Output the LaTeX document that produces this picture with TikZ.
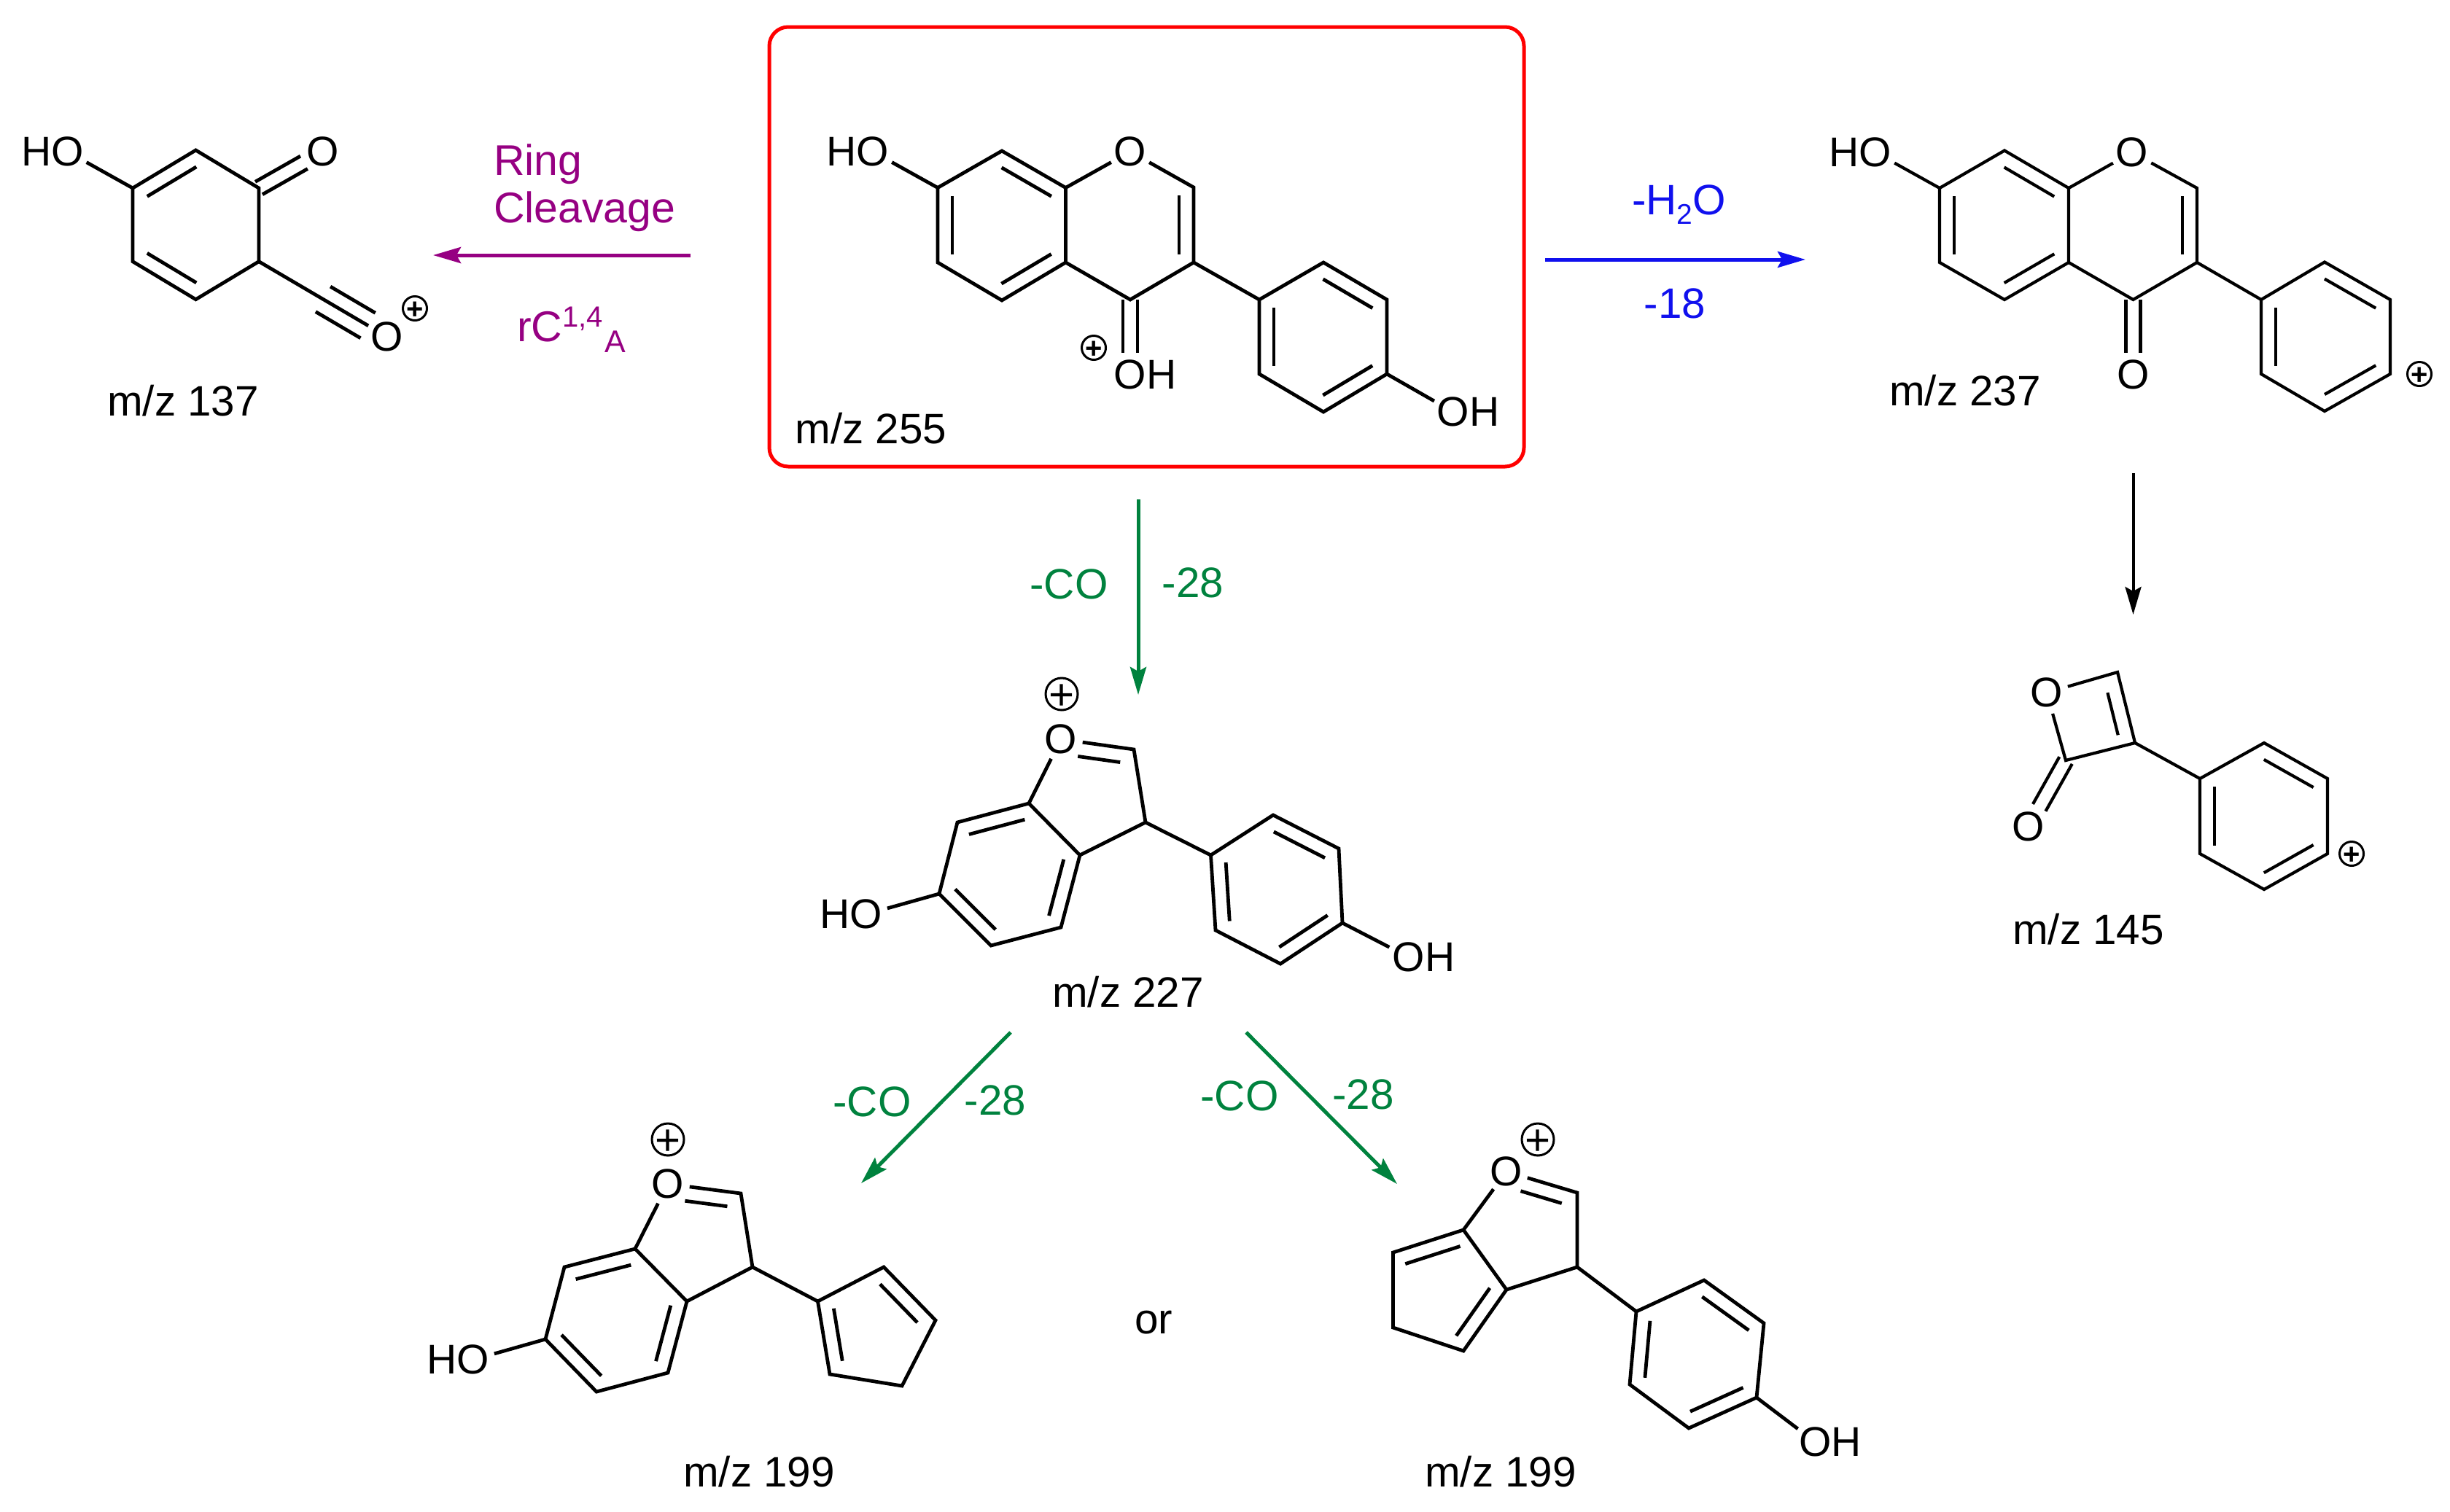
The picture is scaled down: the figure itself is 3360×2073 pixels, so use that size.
\documentclass[tikz,border=0pt]{standalone}
\usepackage{fontspec}
\setmainfont{Liberation Sans}
\usetikzlibrary{calc,arrows.meta}
\definecolor{rbox}{RGB}{255,0,0}
\definecolor{pur}{RGB}{150,0,130}
\definecolor{blu}{RGB}{16,16,238}
\definecolor{grn}{RGB}{0,130,62}
\newcommand{\bw}{2.4pt}
\tikzset{
  every node/.style={font=\fontsize{28.5}{31}\selectfont,inner sep=0pt,outer sep=0pt},
  bond/.style={line width=\bw,line join=miter,black},
  atom/.style={circle,minimum size=30pt},
  chg/.style={circle,draw=black,line width=1.5pt,minimum size=16.5pt,font=\fontsize{20}{20}\selectfont\bfseries},
  chgbig/.style={chg,line width=1.5pt,minimum size=22pt,font=\fontsize{30}{30}\selectfont\mdseries},
  lbl/.style={anchor=base,font=\fontsize{29.2}{31}\selectfont},
  purlbl/.style={text=pur,font=\fontsize{29.5}{32.5}\selectfont},
  arr/.style={line width=2.5pt,-{Stealth[length=19pt,width=11pt,inset=3pt]}},
}
% inner line of a double bond: ends, side, start and stop fractions
\newcommand{\dbl}[5]{\draw[bond] ($(#1)!#4!(#2)!10pt!#3:(#2)$) -- ($(#1)!#5!(#2)!10pt!#3:(#2)$);}
\newcommand{\rdbl}[3]{\dbl{#1}{#2}{#3}{.11}{.89}}
% symmetric double bond to an atom node
\newcommand{\sdbl}[2]{\draw[bond,shorten >=15pt] ($(#1)!5pt!90:(#2)$) -- ($(#2)!5pt!-90:(#1)$);\draw[bond,shorten >=15pt] ($(#1)!5pt!-90:(#2)$) -- ($(#2)!5pt!90:(#1)$);}
\newcommand{\plusmark}{\makebox[0pt]{\smash{\raisebox{-.35em}{+}}}}
\newcommand{\HO}{\makebox[0pt][r]{H}O}
\newcommand{\OH}{O\makebox[0pt][l]{H}}
\begin{document}
\begin{tikzpicture}[x=0.5pt,y=-0.5pt]
\useasboundingbox (0,0) rectangle (3360,2073);
\fill[white] (0,0) rectangle (3360,2073);

% ---------- boxed m/z 255 ----------
\node[draw=rbox,line width=2.5pt,rounded corners=13pt,minimum width=517.5pt,minimum height=301.5pt] (box) at (1572.5,338.5) {};
\node[atom] (aHO) at (1197,208) {\HO};
\node[atom] (aO) at (1550,208) {O};
\node[atom] (aOH) at (1550,514) {\OH};
\node[atom] (aOHb) at (1993,565) {\OH};
\node[chg] (ap) at (1500,477) {\plusmark};
\coordinate (a7) at (1286,257.5); \coordinate (a8) at (1374,207);
\coordinate (a8a) at (1461.5,257.5); \coordinate (a2) at (1637,257);
\coordinate (a3) at (1637,360); \coordinate (a4) at (1550,411);
\coordinate (a4a) at (1461.5,360); \coordinate (a5) at (1374,412);
\coordinate (a6) at (1286,360);
\coordinate (a1p) at (1727,411); \coordinate (a2p) at (1815,360);
\coordinate (a3p) at (1902,411); \coordinate (a4p) at (1902,513);
\coordinate (a5p) at (1815,565); \coordinate (a6p) at (1727,513);
\draw[bond] (aHO) -- (a7) -- (a8) -- (a8a) -- (a4a) -- (a5) -- (a6) -- (a7);
\draw[bond] (a8a) -- (aO);
\draw[bond] (aO) -- (a2) -- (a3) -- (a4) -- (a4a);
\draw[bond] (a3) -- (a1p) -- (a2p) -- (a3p) -- (a4p) -- (a5p) -- (a6p) -- (a1p);
\draw[bond] (a4p) -- (aOHb);
\sdbl{a4}{aOH}
\rdbl{a7}{a6}{90} \rdbl{a8}{a8a}{-90} \rdbl{a5}{a4a}{90} \rdbl{a2}{a3}{-90}
\rdbl{a1p}{a6p}{90} \rdbl{a2p}{a3p}{-90} \rdbl{a5p}{a4p}{90}
\node[lbl] (t255) at (1194.5,608) {m/z 255};

% ---------- m/z 137 ----------
\node[atom] (bHO) at (92.5,208) {\HO};
\node[atom] (bO) at (443,208) {O};
\node[atom] (bOp) at (531,462) {O};
\node[chg] (bp) at (569,423) {\plusmark};
\coordinate (b1) at (182,258); \coordinate (b2) at (268.5,206);
\coordinate (b3) at (355,258); \coordinate (b4) at (355,358.7);
\coordinate (b5) at (268.5,410.7); \coordinate (b6) at (182,358.7);
\draw[bond] (bHO) -- (b1) -- (b2) -- (b3) -- (b4) -- (b5) -- (b6) -- (b1);
\draw[bond] (b4) -- (bOp);
\sdbl{b3}{bO}
\rdbl{b2}{b1}{90} \rdbl{b6}{b5}{90}
\dbl{b4}{bOp}{90}{.5}{.85} \dbl{b4}{bOp}{-90}{.5}{.85}
\node[lbl] (t137) at (251,570) {m/z 137};

% ---------- ring cleavage arrow ----------
\coordinate (pS) at (947,350); \coordinate (pE) at (594,350);
\draw[arr,pur] (pS) -- (pE);
\node[purlbl,align=left,anchor=base west] (tRing) at (677,305) {Ring\\Cleavage};
\node[purlbl,anchor=base west] (tRC) at (709,468) {rC\raisebox{10pt}{\fontsize{20}{22}\selectfont 1,4}\kern1.2pt\raisebox{-7.5pt}{\fontsize{21.5}{22}\selectfont A}};

% ---------- water loss arrow ----------
\coordinate (qS) at (2119,356); \coordinate (qE) at (2476,356);
\draw[arr,blu] (qS) -- (qE);
\node[text=blu,lbl] (tW) at (2302.5,294.5) {-H\raisebox{-6.5pt}{\fontsize{19.5}{20}\selectfont 2}O};
\node[text=blu,lbl] (tW2) at (2297,436) {-18};

\renewcommand{\bw}{2.1pt}
% ---------- m/z 237 ----------
\node[atom] (cHO) at (2572,209) {\HO};
\node[atom] (cO) at (2924,209) {O};
\node[atom] (cOd) at (2925.5,514) {O};
\node[chg] (cp) at (3318,513) {\plusmark};
\coordinate (c7) at (2660,258); \coordinate (c8) at (2749,206.5);
\coordinate (c8a) at (2837,258); \coordinate (c2) at (3013,258);
\coordinate (c3) at (3013,360); \coordinate (c4) at (2925.5,411);
\coordinate (c4a) at (2837,360); \coordinate (c5) at (2749,411);
\coordinate (c6) at (2660,360);
\coordinate (c1p) at (3101,411); \coordinate (c2p) at (3188,359.5);
\coordinate (c3p) at (3278,411); \coordinate (c4p) at (3278,513);
\coordinate (c5p) at (3188,564); \coordinate (c6p) at (3101,513);
\draw[bond] (cHO) -- (c7) -- (c8) -- (c8a) -- (c4a) -- (c5) -- (c6) -- (c7);
\draw[bond] (c8a) -- (cO);
\draw[bond] (cO) -- (c2) -- (c3) -- (c4) -- (c4a);
\draw[bond] (c3) -- (c1p) -- (c2p) -- (c3p) -- (c4p) -- (c5p) -- (c6p) -- (c1p);
\sdbl{c4}{cOd}
\rdbl{c7}{c6}{90} \rdbl{c8}{c8a}{-90} \rdbl{c5}{c4a}{90} \rdbl{c2}{c3}{-90}
\rdbl{c1p}{c6p}{90} \rdbl{c2p}{c3p}{-90} \rdbl{c5p}{c4p}{90}
\node[lbl] (t237) at (2695,556) {m/z 237};

% ---------- black arrow ----------
\coordinate (kS) at (2925.5,649); \coordinate (kE) at (2925.5,843);
\draw[arr,black,line width=2pt] (kS) -- (kE);

% ---------- m/z 145 ----------
\node[atom] (dO) at (2807,950) {O};
\node[atom] (dOd) at (2782,1134) {O};
\node[chg] (dp) at (3225,1171) {\plusmark};
\coordinate (d1) at (2904,922); \coordinate (d2) at (2928,1019);
\coordinate (d3) at (2833,1043);
\coordinate (d1p) at (3017,1068); \coordinate (d2p) at (3105,1019);
\coordinate (d3p) at (3192,1068); \coordinate (d4p) at (3192,1171);
\coordinate (d5p) at (3105,1220); \coordinate (d6p) at (3017,1171);
\draw[bond] (dO) -- (d1) -- (d2) -- (d3) -- (dO);
\draw[bond] (d2) -- (d1p) -- (d2p) -- (d3p) -- (d4p) -- (d5p) -- (d6p) -- (d1p);
\sdbl{d3}{dOd}
\dbl{d1}{d2}{-90}{.24}{.84}
\rdbl{d1p}{d6p}{90} \rdbl{d2p}{d3p}{-90} \rdbl{d5p}{d4p}{90}
\node[lbl] (t145) at (2864,1295) {m/z 145};
\renewcommand{\bw}{2.4pt}

% ---------- first CO loss ----------
\coordinate (gS) at (1561,685); \coordinate (gE) at (1561,953);
\draw[arr,grn] (gS) -- (gE);
\node[text=grn,lbl] (tCOa) at (1466,821) {-CO};
\node[text=grn,lbl] (t28a) at (1636,819) {-28};

% ---------- m/z 227 ----------
\node[chgbig] (ep) at (1456,952) {\plusmark};
\node[atom] (eO) at (1455,1014) {O};
\node[atom] (eHO) at (1188,1254) {\HO};
\node[atom] (eOH) at (1932,1313) {\OH};
\coordinate (e1) at (1555,1028); \coordinate (e2) at (1571,1128);
\coordinate (e3a) at (1481,1173); \coordinate (e7a) at (1411,1102);
\coordinate (e7) at (1313,1128); \coordinate (e6) at (1288,1226);
\coordinate (e5) at (1359,1297); \coordinate (e4) at (1455,1272);
\coordinate (e1p) at (1660.5,1173); \coordinate (e2p) at (1746,1118);
\coordinate (e3p) at (1836,1164); \coordinate (e4p) at (1841,1266);
\coordinate (e5p) at (1756,1322); \coordinate (e6p) at (1667,1276);
\draw[bond] (eO) -- (e1) -- (e2) -- (e3a) -- (e7a) -- (e7) -- (e6) -- (e5) -- (e4) -- (e3a);
\draw[bond] (e7a) -- (eO);
\draw[bond] (e6) -- (eHO);
\draw[bond] (e2) -- (e1p) -- (e2p) -- (e3p) -- (e4p) -- (e5p) -- (e6p) -- (e1p);
\draw[bond] (e4p) -- (eOH);
\dbl{e1}{eO}{90}{.16}{.74}
\rdbl{e7a}{e7}{90} \rdbl{e3a}{e4}{-90} \rdbl{e6}{e5}{90}
\rdbl{e1p}{e6p}{90} \rdbl{e2p}{e3p}{-90} \rdbl{e5p}{e4p}{90}
\node[lbl] (t227) at (1547,1381) {m/z 227};

% ---------- CO losses from 227 ----------
\coordinate (hS) at (1386,1416); \coordinate (hE) at (1181,1623);
\draw[arr,grn] (hS) -- (hE);
\node[text=grn,lbl] (tCOb) at (1196,1531) {-CO};
\node[text=grn,lbl] (t28b) at (1365,1529) {-28};
\coordinate (iS) at (1709,1416); \coordinate (iE) at (1916,1624);
\draw[arr,grn] (iS) -- (iE);
\node[text=grn,lbl] (tCOc) at (1700,1523) {-CO};
\node[text=grn,lbl] (t28c) at (1869.5,1521) {-28};

% ---------- m/z 199, left ----------
\node[chgbig] (fp) at (916,1563) {\plusmark};
\node[atom] (fO) at (916,1624) {O};
\node[atom] (fHO) at (649,1865) {\HO};
\coordinate (f1) at (1016,1637); \coordinate (f2) at (1032,1738);
\coordinate (f3a) at (942,1785); \coordinate (f7a) at (871,1713);
\coordinate (f7) at (774,1738); \coordinate (f6) at (748,1837);
\coordinate (f5) at (818,1909); \coordinate (f4) at (916,1883);
\coordinate (fa) at (1121.5,1785); \coordinate (fb) at (1212,1738);
\coordinate (fc) at (1283,1811); \coordinate (fd) at (1237,1901);
\coordinate (fe) at (1138,1885);
\draw[bond] (fO) -- (f1) -- (f2) -- (f3a) -- (f7a) -- (f7) -- (f6) -- (f5) -- (f4) -- (f3a);
\draw[bond] (f7a) -- (fO);
\draw[bond] (f6) -- (fHO);
\draw[bond] (f2) -- (fa) -- (fb) -- (fc) -- (fd) -- (fe) -- (fa);
\dbl{f1}{fO}{90}{.16}{.74}
\rdbl{f7a}{f7}{90} \rdbl{f3a}{f4}{-90} \rdbl{f6}{f5}{90}
\dbl{fa}{fe}{90}{.13}{.85} \dbl{fb}{fc}{-90}{.13}{.85}
\node[lbl] (t199a) at (1041,2039.5) {m/z 199};

\node[lbl] (tor) at (1582,1829) {or};

% ---------- m/z 199, right ----------
\node[chgbig] (jp) at (2109,1563) {\plusmark};
\node[atom] (jO) at (2066,1607) {O};
\node[atom] (jOH) at (2489.5,1978) {\OH};
\coordinate (j1) at (2163,1636); \coordinate (j2) at (2163,1738);
\coordinate (j3a) at (2066,1769); \coordinate (j7a) at (2007,1687);
\coordinate (ja) at (1910.5,1718); \coordinate (jb) at (1910.5,1821);
\coordinate (jc) at (2007,1853);
\coordinate (j1p) at (2244,1799); \coordinate (j2p) at (2337,1756);
\coordinate (j3p) at (2419,1815); \coordinate (j4p) at (2409,1917);
\coordinate (j5p) at (2316,1959); \coordinate (j6p) at (2235,1899);
\draw[bond] (jO) -- (j1) -- (j2) -- (j3a) -- (j7a) -- (ja) -- (jb) -- (jc) -- (j3a);
\draw[bond] (j7a) -- (jO);
\draw[bond] (j2) -- (j1p) -- (j2p) -- (j3p) -- (j4p) -- (j5p) -- (j6p) -- (j1p);
\draw[bond] (j4p) -- (jOH);
\dbl{j1}{jO}{90}{.16}{.74}
\rdbl{j7a}{ja}{90} \rdbl{j3a}{jc}{-90}
\rdbl{j1p}{j6p}{90} \rdbl{j2p}{j3p}{-90} \rdbl{j5p}{j4p}{90}
\node[lbl] (t199b) at (2058,2039.5) {m/z 199};
\end{tikzpicture}
\end{document}
